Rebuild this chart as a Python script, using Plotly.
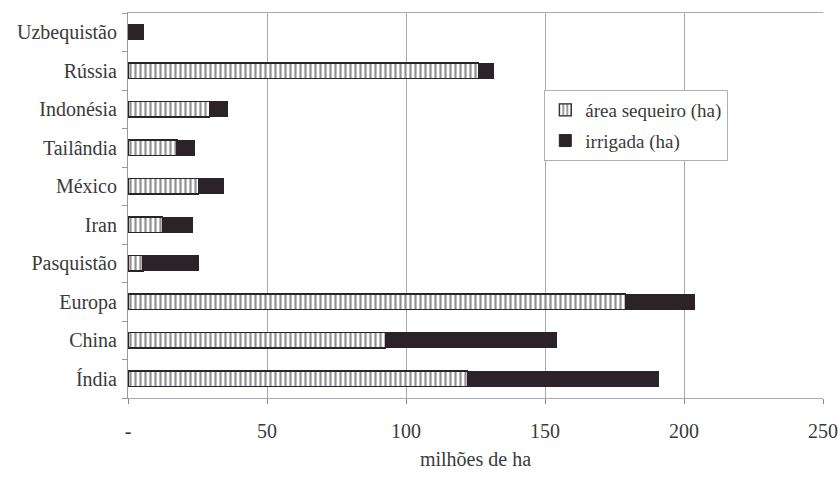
import plotly.graph_objects as go

categories = ["Índia", "China", "Europa", "Pasquistão", "Iran", "México",
              "Tailândia", "Indonésia", "Rússia", "Uzbequistão"]
sequeiro = [122, 92.5, 179, 5.4, 12.5, 25.4, 17.6, 29.4, 126, 0]
irrigada = [69, 61.5, 24.6, 20, 10.8, 9, 6.4, 6.4, 5.5, 5.5]
tick_vals = [0, 50, 100, 150, 200, 250]
tick_text = ["-", "50", "100", "150", "200", "250"]

dark = "#2b2327"
txt = "#3a3a3a"
serif = "Liberation Serif, Times New Roman, serif"
fs = 20

fig = go.Figure()
fig.add_trace(go.Bar(
    y=categories, x=sequeiro, orientation="h", name="área sequeiro (ha)",
    legendgroup="a",
    marker=dict(color="white", line=dict(color=dark, width=1.2),
                pattern=dict(shape="|", fgcolor=dark, bgcolor="white",
                             size=5, solidity=0.45)),
))
fig.add_trace(go.Bar(
    y=categories, x=irrigada, orientation="h", name="irrigada (ha)",
    legendgroup="b",
    marker=dict(color=dark, line=dict(color=dark, width=1)),
))

fig.update_layout(
    barmode="stack", bargap=0.6,
    width=840, height=480,
    margin=dict(l=128, r=17, t=13, b=82, autoexpand=False),
    paper_bgcolor="white", plot_bgcolor="white",
    font=dict(family=serif, size=fs, color=txt),
    legend=dict(x=0.599, y=0.8, xanchor="left", yanchor="top",
                bordercolor="#b0b0b0", borderwidth=1, bgcolor="white",
                font=dict(family=serif, size=19, color=txt), traceorder="grouped",
                itemwidth=30, tracegroupgap=3),
    showlegend=True,
)
fig.update_xaxes(
    range=[0, 250], tickvals=tick_vals, ticktext=tick_text,
    showgrid=True, gridcolor="#a8a8b8", gridwidth=1,
    showline=True, linecolor="#a8a8b8", mirror=True,
    ticks="outside", ticklen=5, tickcolor="#888",
    tickfont=dict(family=serif, size=fs, color=txt),
    ticklabelstandoff=10,
    title=dict(text="milhões de ha", standoff=10, font=dict(family=serif, size=fs, color=txt)),
    zeroline=False, automargin=False,
)
fig.update_yaxes(
    showline=True, linecolor="#999", ticks="outside", ticklen=5,
    tickcolor="#999", tickson="boundaries",
    tickfont=dict(family=serif, size=fs, color=txt), ticklabelstandoff=6,
    showgrid=False, automargin=False,
)
fig.write_html("out.html", config={"displayModeBar": False},
               post_script="document.body.style.margin='0';")
